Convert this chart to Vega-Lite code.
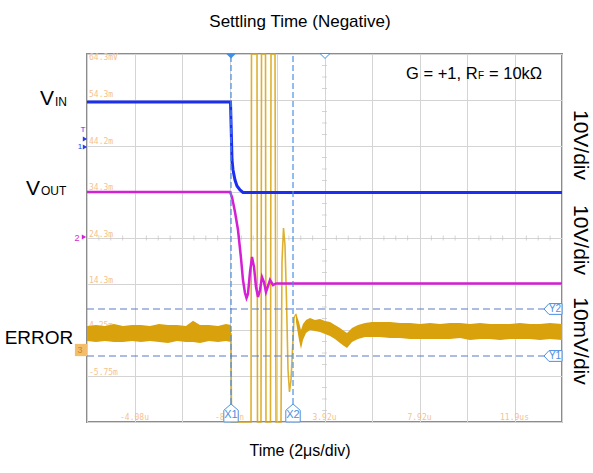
{
  "$schema": "https://vega.github.io/schema/vega-lite/v6.json",
  "width": 475,
  "height": 368,
  "autosize": {"type": "none"},
  "padding": {"left": 87, "top": 54, "right": 31, "bottom": 51},
  "background": "white",
  "config": {
    "view": {"stroke": "#8c8c8c", "strokeWidth": 2},
    "axis": {"labels": false, "ticks": false, "domain": false, "grid": true, "gridColor": "#d4d4d4", "gridWidth": 1},
    "axisX": {"tickCount": 10},
    "axisY": {"tickCount": 8},
    "text": {"font": "Liberation Sans"}
  },
  "datasets": {
    "hticks": [
      {"x":0.25,"y":4},{"x":0.5,"y":4},{"x":0.75,"y":4},{"x":1.25,"y":4},{"x":1.5,"y":4},{"x":1.75,"y":4},
      {"x":2.25,"y":4},{"x":2.5,"y":4},{"x":2.75,"y":4},{"x":3.25,"y":4},{"x":3.5,"y":4},{"x":3.75,"y":4},
      {"x":4.25,"y":4},{"x":4.5,"y":4},{"x":4.75,"y":4},{"x":5.25,"y":4},{"x":5.5,"y":4},{"x":5.75,"y":4},
      {"x":6.25,"y":4},{"x":6.5,"y":4},{"x":6.75,"y":4},{"x":7.25,"y":4},{"x":7.5,"y":4},{"x":7.75,"y":4},
      {"x":8.25,"y":4},{"x":8.5,"y":4},{"x":8.75,"y":4},{"x":9.25,"y":4},{"x":9.5,"y":4},{"x":9.75,"y":4}
    ],
    "vticks": [
      {"x":5,"y":0.25},{"x":5,"y":0.5},{"x":5,"y":0.75},{"x":5,"y":1.25},{"x":5,"y":1.5},{"x":5,"y":1.75},
      {"x":5,"y":2.25},{"x":5,"y":2.5},{"x":5,"y":2.75},{"x":5,"y":3.25},{"x":5,"y":3.5},{"x":5,"y":3.75},
      {"x":5,"y":4.25},{"x":5,"y":4.5},{"x":5,"y":4.75},{"x":5,"y":5.25},{"x":5,"y":5.5},{"x":5,"y":5.75},
      {"x":5,"y":6.25},{"x":5,"y":6.5},{"x":5,"y":6.75},{"x":5,"y":7.25},{"x":5,"y":7.5},{"x":5,"y":7.75}
    ],
    "ylab": [
      {"x":0.042,"y":7.91,"t":"64.3mV"},{"x":0.042,"y":7.109,"t":"54.3m"},{"x":0.042,"y":6.087,"t":"44.2m"},
      {"x":0.042,"y":5.087,"t":"34.3m"},{"x":0.042,"y":4.065,"t":"24.3m"},{"x":0.042,"y":3.065,"t":"14.3m"},
      {"x":0.042,"y":2.087,"t":"4.25m"},{"x":0.042,"y":1.065,"t":"-5.75m"}
    ],
    "xlab": [
      {"x":1,"y":0.087,"t":"-4.08u"},{"x":3,"y":0.087,"t":"-80.0n"},{"x":5,"y":0.087,"t":"3.92u"},
      {"x":7,"y":0.087,"t":"7.92u"},{"x":9,"y":0.087,"t":"11.9us"}
    ],
    "vin": [
      {"x":0,"y":6.957},{"x":3.021,"y":6.957},{"x":3.042,"y":6.13},{"x":3.053,"y":5.696},{"x":3.074,"y":5.478},
      {"x":3.116,"y":5.261},{"x":3.158,"y":5.13},{"x":3.221,"y":5.043},{"x":3.284,"y":4.989},{"x":10,"y":4.989}
    ],
    "vout": [
      {"x":0,"y":5.0},{"x":3.011,"y":5.0},{"x":3.053,"y":4.891},{"x":3.116,"y":4.565},{"x":3.179,"y":4.174},
      {"x":3.242,"y":3.565},{"x":3.284,"y":3.087},{"x":3.326,"y":2.804},{"x":3.358,"y":2.696},{"x":3.389,"y":2.783},
      {"x":3.432,"y":3.261},{"x":3.474,"y":3.587},{"x":3.516,"y":3.37},{"x":3.558,"y":2.935},{"x":3.6,"y":2.717},
      {"x":3.642,"y":2.87},{"x":3.684,"y":3.152},{"x":3.726,"y":3.043},{"x":3.768,"y":2.826},{"x":3.811,"y":2.957},
      {"x":3.853,"y":3.087},{"x":3.916,"y":2.978},{"x":3.979,"y":3.011},{"x":10,"y":3.011}
    ],
    "errpre": [
      {"x":0,"y":2.087,"y2":1.761},{"x":0.189,"y":2.109,"y2":1.739},{"x":0.379,"y":2.087,"y2":1.761},
      {"x":0.568,"y":2.13,"y2":1.739},{"x":0.758,"y":2.087,"y2":1.739},{"x":0.947,"y":2.109,"y2":1.761},
      {"x":1.137,"y":2.109,"y2":1.739},{"x":1.326,"y":2.087,"y2":1.761},{"x":1.516,"y":2.13,"y2":1.739},
      {"x":1.705,"y":2.109,"y2":1.717},{"x":1.895,"y":2.109,"y2":1.761},{"x":2.084,"y":2.087,"y2":1.739},
      {"x":2.232,"y":2.2,"y2":1.739},{"x":2.379,"y":2.109,"y2":1.717},{"x":2.568,"y":2.109,"y2":1.761},
      {"x":2.758,"y":2.087,"y2":1.739},{"x":2.926,"y":2.13,"y2":1.761},{"x":3.032,"y":2.109,"y2":1.739}
    ],
    "errstep": [
      {"x":3.032,"y":1.935},{"x":3.042,"y":0},{"x":3.453,"y":0},{"x":3.463,"y":8},{"x":3.579,"y":8},
      {"x":3.589,"y":0},{"x":3.663,"y":0},{"x":3.674,"y":8},{"x":3.758,"y":8},{"x":3.768,"y":0},
      {"x":3.863,"y":0},{"x":3.874,"y":8},{"x":3.958,"y":8},{"x":3.979,"y":0},{"x":4.084,"y":0},
      {"x":4.105,"y":3.478},{"x":4.137,"y":4.217},{"x":4.168,"y":3.848},{"x":4.2,"y":2.652},{"x":4.232,"y":1.13},
      {"x":4.263,"y":0.652},{"x":4.295,"y":0.913},{"x":4.326,"y":1.565},{"x":4.358,"y":2.261},{"x":4.4,"y":2.348}
    ],
    "errpost": [
      {"x":4.4,"y":2.37,"y2":2.174},{"x":4.463,"y":2.174,"y2":1.783},{"x":4.505,"y":2.0,"y2":1.587},
      {"x":4.547,"y":2.13,"y2":1.783},{"x":4.611,"y":2.217,"y2":1.935},{"x":4.695,"y":2.261,"y2":2.0},
      {"x":4.8,"y":2.217,"y2":1.978},{"x":4.905,"y":2.239,"y2":1.957},{"x":5.011,"y":2.196,"y2":1.913},
      {"x":5.116,"y":2.174,"y2":1.87},{"x":5.221,"y":2.109,"y2":1.804},{"x":5.326,"y":2.043,"y2":1.717},
      {"x":5.411,"y":1.978,"y2":1.652},{"x":5.474,"y":1.935,"y2":1.609},{"x":5.579,"y":2.043,"y2":1.739},
      {"x":5.705,"y":2.109,"y2":1.804},{"x":5.853,"y":2.152,"y2":1.848},{"x":6.0,"y":2.174,"y2":1.848},
      {"x":6.168,"y":2.174,"y2":1.848},{"x":6.379,"y":2.174,"y2":1.826},{"x":6.589,"y":2.152,"y2":1.826},
      {"x":6.8,"y":2.152,"y2":1.804},{"x":7.011,"y":2.13,"y2":1.804},{"x":7.221,"y":2.152,"y2":1.804},
      {"x":7.432,"y":2.13,"y2":1.804},{"x":7.642,"y":2.152,"y2":1.804},{"x":7.853,"y":2.152,"y2":1.826},
      {"x":8.063,"y":2.13,"y2":1.783},{"x":8.274,"y":2.152,"y2":1.804},{"x":8.484,"y":2.13,"y2":1.804},
      {"x":8.695,"y":2.13,"y2":1.783},{"x":8.905,"y":2.13,"y2":1.804},{"x":9.116,"y":2.152,"y2":1.804},
      {"x":9.326,"y":2.13,"y2":1.804},{"x":9.537,"y":2.13,"y2":1.783},{"x":9.747,"y":2.152,"y2":1.804},
      {"x":10,"y":2.13,"y2":1.783}
    ],
    "cx": [{"x":3.032,"y":0.196,"t":"X1"},{"x":4.337,"y":0.196,"t":"X2"}],
    "cy": [{"x":9.811,"y":2.457,"t":"Y2"},{"x":9.811,"y":1.435,"t":"Y1"}]
  },
  "encoding": {
    "x": {"field": "x", "type": "quantitative", "scale": {"domain": [0, 10], "nice": false}, "axis": {"title": null}},
    "y": {"field": "y", "type": "quantitative", "scale": {"domain": [0, 8], "nice": false}, "axis": {"title": null}}
  },
  "layer": [
    {"data": {"name": "hticks"}, "mark": {"type": "tick", "orient": "vertical", "size": 5, "thickness": 1, "color": "#c4c4c4"}},
    {"data": {"name": "vticks"}, "mark": {"type": "tick", "orient": "horizontal", "size": 5, "thickness": 1, "color": "#c4c4c4"}},
    {"data": {"name": "ylab"}, "mark": {"type": "text", "align": "left", "baseline": "middle", "font": "DejaVu Sans Mono", "fontSize": 8, "color": "#f5c28e"}, "encoding": {"text": {"field": "t"}}},
    {"data": {"name": "xlab"}, "mark": {"type": "text", "align": "center", "baseline": "middle", "font": "DejaVu Sans Mono", "fontSize": 8, "color": "#f5c28e"}, "encoding": {"text": {"field": "t"}}},
    {"data": {"name": "errpre"}, "mark": {"type": "area", "color": "#d9a20c"}, "encoding": {"y2": {"field": "y2"}}},
    {"data": {"name": "errpost"}, "mark": {"type": "area", "color": "#d9a20c"}, "encoding": {"y2": {"field": "y2"}}},
    {"data": {"name": "errstep"}, "mark": {"type": "line", "color": "#d9a20c", "strokeWidth": 1.6, "opacity": 0.85}},
    {"data": {"name": "vout"}, "mark": {"type": "line", "color": "#d41fd4", "strokeWidth": 2.5}},
    {"data": {"name": "vin"}, "mark": {"type": "line", "color": "#1c2ff0", "strokeWidth": 3}},
    {"data": {"name": "cx"}, "mark": {"type": "rule", "color": "#4a90e2", "strokeWidth": 1.2, "strokeDash": [6, 3]}, "encoding": {"y": {"datum": 0, "type": "quantitative"}, "y2": {"datum": 8}}},
    {"data": {"name": "cy"}, "mark": {"type": "rule", "color": "#5b7dc4", "strokeWidth": 1.2, "strokeDash": [7, 4]}, "encoding": {"x": {"datum": 0, "type": "quantitative"}, "x2": {"datum": 10}}},
    {"data": {"name": "cx"}, "mark": {"type": "point", "shape": "M -0.8 1 L -0.8 -0.3 L 0 -1 L 0.8 -0.3 L 0.8 1 Z", "size": 324, "filled": true, "fill": "white", "stroke": "#4a90e2", "strokeWidth": 1, "opacity": 1}},
    {"data": {"name": "cx"}, "mark": {"type": "text", "fontSize": 11, "color": "#4a90e2", "baseline": "middle", "dy": 2}, "encoding": {"text": {"field": "t"}}},
    {"data": {"name": "cy"}, "mark": {"type": "point", "shape": "M -1 0 L -0.45 -0.6 L 1 -0.6 L 1 0.6 L -0.45 0.6 Z", "size": 324, "filled": true, "fill": "white", "stroke": "#4a90e2", "strokeWidth": 1, "opacity": 1}},
    {"data": {"name": "cy"}, "mark": {"type": "text", "fontSize": 10, "color": "#4a90e2", "baseline": "middle", "dx": 2}, "encoding": {"text": {"field": "t"}}},
    {"data": {"values": [{"x": 3.032, "y": 7.957}]}, "mark": {"type": "point", "shape": "M -1 -0.5 L 1 -0.5 L 0 0.5 Z", "size": 100, "filled": true, "color": "#3d8fe8", "opacity": 1}},
    {"data": {"values": [{"x": 5.011, "y": 7.957}]}, "mark": {"type": "point", "shape": "M -1 -0.5 L 1 -0.5 L 0 0.5 Z", "size": 100, "filled": true, "fill": "white", "stroke": "#3d8fe8", "strokeWidth": 1, "opacity": 1}},
    {"data": {"values": [{"x": -0.084, "y": 6.348, "t": "T"}, {"x": -0.147, "y": 5.978, "t": "1"}]}, "mark": {"type": "text", "fontSize": 8, "color": "#2a3cf0", "baseline": "middle"}, "encoding": {"text": {"field": "t"}}},
    {"data": {"values": [{"x": -0.042, "y": 6.152}, {"x": -0.042, "y": 5.978}]}, "mark": {"type": "point", "shape": "triangle-right", "size": 25, "filled": true, "color": "#2a3cf0", "opacity": 1}},
    {"data": {"values": [{"x": -0.21, "y": 4.0, "t": "2"}]}, "mark": {"type": "text", "fontSize": 9, "color": "#d41fd4", "baseline": "middle"}, "encoding": {"text": {"field": "t"}}},
    {"data": {"values": [{"x": -0.063, "y": 4.022}]}, "mark": {"type": "point", "shape": "triangle-right", "size": 25, "filled": true, "color": "#d41fd4", "opacity": 1}},
    {"data": {"values": [{"x": -0.126, "y": 1.565}]}, "mark": {"type": "point", "shape": "square", "size": 150, "filled": true, "color": "#f3bd6e", "opacity": 1}},
    {"data": {"values": [{"x": -0.15, "y": 1.565, "t": "3"}]}, "mark": {"type": "text", "fontSize": 9, "color": "#c98a1a", "baseline": "middle"}, "encoding": {"text": {"field": "t"}}},
    {"data": {"values": [{"x": -0.989, "y": 6.891, "t": "V"}, {"x": -1.284, "y": 4.935, "t": "V"}]}, "mark": {"type": "text", "fontSize": 21, "align": "left", "baseline": "alphabetic", "color": "black"}, "encoding": {"text": {"field": "t"}}},
    {"data": {"values": [{"x": -0.674, "y": 6.87, "t": "IN"}, {"x": -0.968, "y": 4.935, "t": "OUT"}]}, "mark": {"type": "text", "fontSize": 12, "align": "left", "baseline": "alphabetic", "color": "black"}, "encoding": {"text": {"field": "t"}}},
    {"data": {"values": [{"x": -1.011, "y": 1.696, "t": "ERROR"}]}, "mark": {"type": "text", "fontSize": 19, "align": "center", "baseline": "alphabetic", "color": "black"}, "encoding": {"text": {"field": "t"}}},
    {"data": {"values": [{"x": 4.484, "y": 8.587, "t": "Settling Time (Negative)"}]}, "mark": {"type": "text", "fontSize": 17, "align": "center", "baseline": "alphabetic", "color": "black"}, "encoding": {"text": {"field": "t"}}},
    {"data": {"values": [{"x": 4.484, "y": -0.739, "t": "Time (2μs/div)"}]}, "mark": {"type": "text", "fontSize": 16, "align": "center", "baseline": "alphabetic", "color": "black"}, "encoding": {"text": {"field": "t"}}},
    {"data": {"values": [{"x": 6.716, "y": 7.457, "t": "G = +1, R"}, {"x": 8.463, "y": 7.457, "t": "= 10kΩ"}]}, "mark": {"type": "text", "fontSize": 16.5, "align": "left", "baseline": "alphabetic", "color": "black"}, "encoding": {"text": {"field": "t"}}},
    {"data": {"values": [{"x": 8.232, "y": 7.457, "t": "F"}]}, "mark": {"type": "text", "fontSize": 10, "align": "left", "baseline": "alphabetic", "color": "black"}, "encoding": {"text": {"field": "t"}}},
    {"data": {"values": [{"x": 10.379, "y": 6.022, "t": "10V/div"}, {"x": 10.379, "y": 3.957, "t": "10V/div"}, {"x": 10.379, "y": 1.761, "t": "10mV/div"}]}, "mark": {"type": "text", "fontSize": 21, "angle": 90, "align": "center", "baseline": "middle", "color": "black"}, "encoding": {"text": {"field": "t"}}}
  ]
}
